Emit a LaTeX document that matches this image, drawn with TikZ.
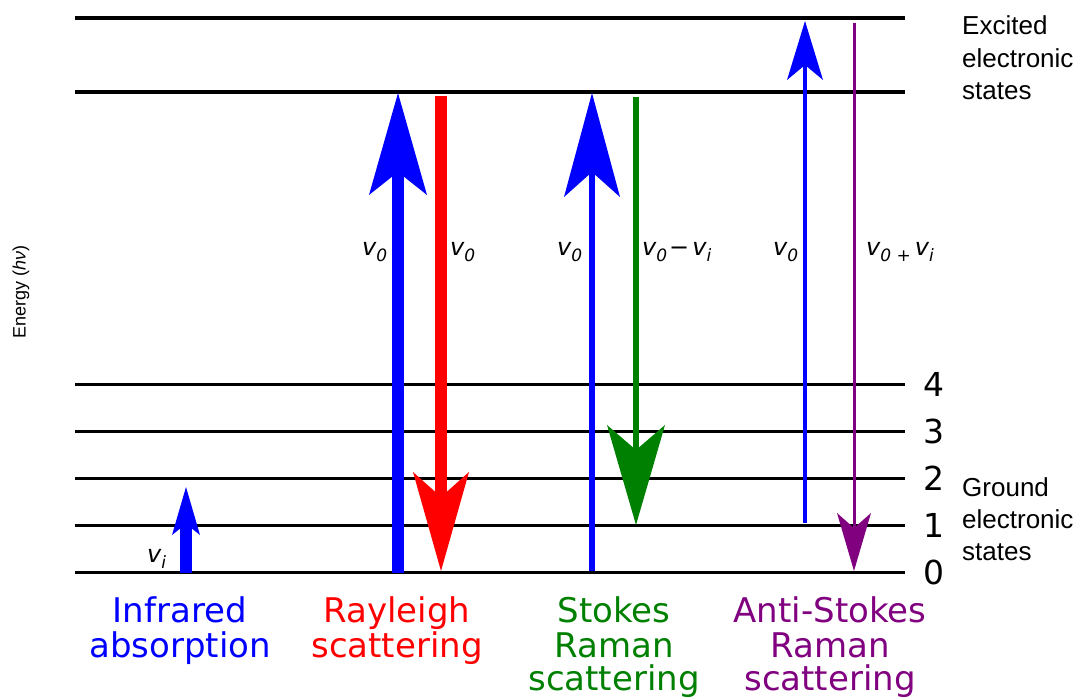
\documentclass[tikz,border=0pt]{standalone}
\usepackage{fontspec}
\setmainfont{DejaVu Sans}
\newfontfamily\arialf{Liberation Sans}
\definecolor{pblue}{RGB}{0,0,255}
\definecolor{pred}{RGB}{255,0,0}
\definecolor{pgreen}{RGB}{0,128,0}
\definecolor{ppurple}{RGB}{128,0,128}
\newcommand\vertarrow[8]{%
  \draw[#1, line width=#5pt] (#2,#3) -- (#2,#8);
  \fill[#1] (#2,#4) -- (#2-#6,#7) -- (#2,#8) -- (#2+#6,#7) -- cycle;}
\newcommand\vsub[1]{{\itshape v}\raisebox{-6pt}{\fontsize{17}{17}\selectfont\itshape #1}}
\tikzset{
  exlevel/.style={line width=4pt},
  gnlevel/.style={line width=3pt},
  lab/.style={anchor=base west, inner sep=0pt, font=\fontsize{24}{24}\selectfont},
  proc/.style={anchor=base, inner sep=0pt, font=\fontsize{34}{36}\selectfont},
  num/.style={inner sep=0pt, font=\fontsize{33}{33}\selectfont},
  side/.style={anchor=base west, inner sep=0pt, font=\arialf\fontsize{26}{26}\selectfont}
}
\begin{document}
\begin{tikzpicture}[x=1pt,y=-1pt]
\useasboundingbox (0,0) rectangle (1080,700);
% levels
\draw[exlevel] (75,18) coordinate (e2w) -- (905,18) coordinate (e2e);
\draw[exlevel] (75,92) coordinate (e1w) -- (905,92) coordinate (e1e);
\foreach \y/\n in {385/4,432/3,479/2,526/1,573/0}{
  \draw[gnlevel] (75,\y) -- (905,\y);
  \node[num] (n\n) at (934,\y-1) {\n};
}
% arrows
\vertarrow{pblue}{186}{573}{487}{12}{14}{535}{524}
\vertarrow{pblue}{398}{573}{93}{12}{29}{195}{172}
\vertarrow{pred}{441}{96}{571}{12}{28}{472}{497}
\vertarrow{pblue}{592}{571}{93}{6}{28}{197}{172}
\vertarrow{pgreen}{636}{97}{525}{6}{29}{425}{450}
\vertarrow{pblue}{805}{523}{21}{4}{18}{80}{65}
\vertarrow{ppurple}{854}{23}{571}{3}{17}{513}{528}
% frequency labels
\node[lab] (l1) at (362,256) {\vsub{0}};
\node[lab] (l2) at (450,256) {\vsub{0}};
\node[lab] (l3) at (557,256) {\vsub{0}};
\node[lab] (l4) at (642,256) {\vsub{0}\hspace{2pt}−\hspace{3pt}\vsub{i}};
\node[lab] (l5) at (773,256) {\vsub{0}};
\node[lab] (l6) at (866,256) {{\itshape v}\raisebox{-6pt}{\fontsize{17}{17}\selectfont\itshape 0 +}\,\vsub{i}};
\node[lab] (l7) at (147,562) {\vsub{i}};
% process labels
\node[proc, text=pblue] (ir1) at (180,623) {Infrared};
\node[proc, text=pblue] (ir2) at (180,657) {absorption};
\node[proc, text=pred] (ra1) at (397,623) {Rayleigh};
\node[proc, text=pred] (ra2) at (397,657) {scattering};
\node[proc, text=pgreen] (st1) at (614,623) {Stokes};
\node[proc, text=pgreen] (st2) at (614,657) {Raman};
\node[proc, text=pgreen] (st3) at (614,690) {scattering};
\node[proc, text=ppurple] (as1) at (830,623) {Anti-Stokes};
\node[proc, text=ppurple] (as2) at (830,657) {Raman};
\node[proc, text=ppurple] (as3) at (830,690) {scattering};
% side labels
\node[side] (ex1) at (962,35) {Excited};
\node[side] (ex2) at (962,68) {electronic};
\node[side] (ex3) at (962,100) {states};
\node[side] (gr1) at (962,497) {Ground};
\node[side] (gr2) at (962,529) {electronic};
\node[side] (gr3) at (962,561) {states};
\node[rotate=90, inner sep=0pt, font=\arialf\fontsize{18}{18}\selectfont] (en) at (21,292) {Energy (\textit{hν})};
\end{tikzpicture}
\end{document}
